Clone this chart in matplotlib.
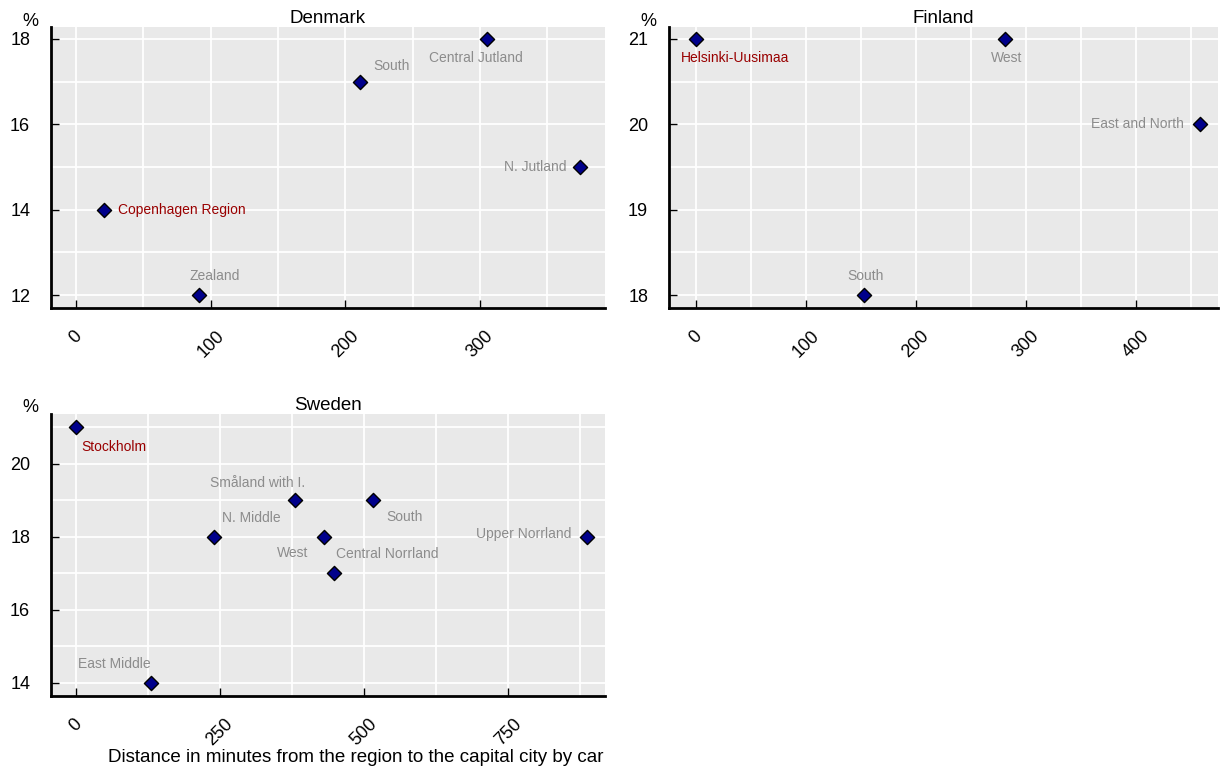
import numpy as np
import matplotlib
matplotlib.use("Agg")
import matplotlib.pyplot as plt
from matplotlib.ticker import MultipleLocator

plt.rcParams['font.family'] = ['Liberation Sans', 'DejaVu Sans']

# data
dk_regions = ["Copenhagen Region", "Zealand", "South", "Central Jutland", "N. Jutland"]
dk_minutes = [21, 91, 211, 305, 374]
dk_share = [14, 12, 17, 18, 15]

fi_regions = ["Helsinki-Uusimaa", "West", "East and North", "South"]
fi_minutes = [0, 281, 458, 153]
fi_share = [21, 21, 20, 18]

se_regions = ["Stockholm", "East Middle", "N. Middle", "Småland with I.", "West",
              "Central Norrland", "South", "Upper Norrland"]
se_minutes = [0, 130, 240, 380, 430, 448, 516, 887]
se_share = [21, 14, 18, 19, 18, 17, 19, 18]

capitals = ["Copenhagen Region", "Helsinki-Uusimaa", "Stockholm"]

# label offsets in pixels (dx, dy, ha)
dk_offsets = [(14, 0, 'left'), (16, 19, 'center'), (31, 16, 'center'),
              (-11, -19, 'center'), (-13, 0, 'right')]
fi_offsets = [(-15, -19, 'left'), (2, -19, 'center'), (-16, 0, 'right'), (1, 19, 'center')]
se_offsets = [(5, -20, 'left'), (-37, 19, 'center'), (37, 19, 'center'), (-37, 17, 'center'),
              (-31, -16, 'center'), (53, 19, 'center'), (31, -17, 'center'), (-16, 3, 'right')]

W, H = 1222, 771
fig = plt.figure(figsize=(W / 100, H / 100), dpi=100)


def panel(rect, title, regions, xs, ys, offsets, xlim, ylim, xmaj, xmin, ymaj, ymin):
    ax = fig.add_axes(rect)
    ax.set_facecolor('#e9e9e9')
    ax.set_xlim(*xlim)
    ax.set_ylim(*ylim)
    ax.xaxis.set_major_locator(MultipleLocator(xmaj))
    ax.xaxis.set_minor_locator(MultipleLocator(xmin))
    ax.yaxis.set_major_locator(MultipleLocator(ymaj))
    ax.yaxis.set_minor_locator(MultipleLocator(ymin))
    ax.grid(True, which='both', color='white', lw=1.3)
    ax.set_axisbelow(True)
    for s in ['top', 'right']:
        ax.spines[s].set_visible(False)
    for s in ['left', 'bottom']:
        ax.spines[s].set_linewidth(2)
        ax.spines[s].set_color('black')
    ax.tick_params(which='major', direction='in', length=6, width=1, labelsize=13)
    ax.tick_params(axis='y', pad=15)
    ax.tick_params(axis='x', pad=14)
    ax.tick_params(which='minor', length=0)
    for lab in ax.get_xticklabels():
        lab.set_rotation(45)
        lab.set_ha('center')
    ax.set_title(title, fontsize=13.5, pad=2)
    ax.annotate('%', xy=(0, 1), xycoords='axes fraction', xytext=(-21, 6),
                textcoords='offset pixels', ha='center', va='center', fontsize=13)
    ax.scatter(xs, ys, marker='D', s=52, color='#00008b', edgecolor='black',
               linewidth=1, zorder=3, clip_on=False)
    for name, x, y, (dx, dy, ha) in zip(regions, xs, ys, offsets):
        col = '#990000' if name in capitals else '#8c8c8c'
        ax.annotate(name, xy=(x, y), xytext=(dx, dy), textcoords='offset pixels',
                    ha=ha, va='center', fontsize=10, color=col)
    return ax


panel([51 / W, 1 - 308 / H, 554 / W, 281 / H], "Denmark", dk_regions, dk_minutes, dk_share,
      dk_offsets, (-18.6, 392.7), (11.70, 18.28), 100, 50, 2, 1)
panel([669 / W, 1 - 308 / H, 549 / W, 281 / H], "Finland", fi_regions, fi_minutes, fi_share,
      fi_offsets, (-24.5, 474.5), (17.85, 21.14), 100, 50, 1, 0.5)
panel([51 / W, 1 - 696 / H, 554 / W, 282 / H], "Sweden", se_regions, se_minutes, se_share,
      se_offsets, (-43.4, 918), (13.64, 21.37), 250, 125, 2, 1)

fig.text(356 / W, 14 / H, "Distance in minutes from the region to the capital city by car",
         ha='center', va='center', fontsize=13.5)

fig.savefig("out.png", dpi=100)
